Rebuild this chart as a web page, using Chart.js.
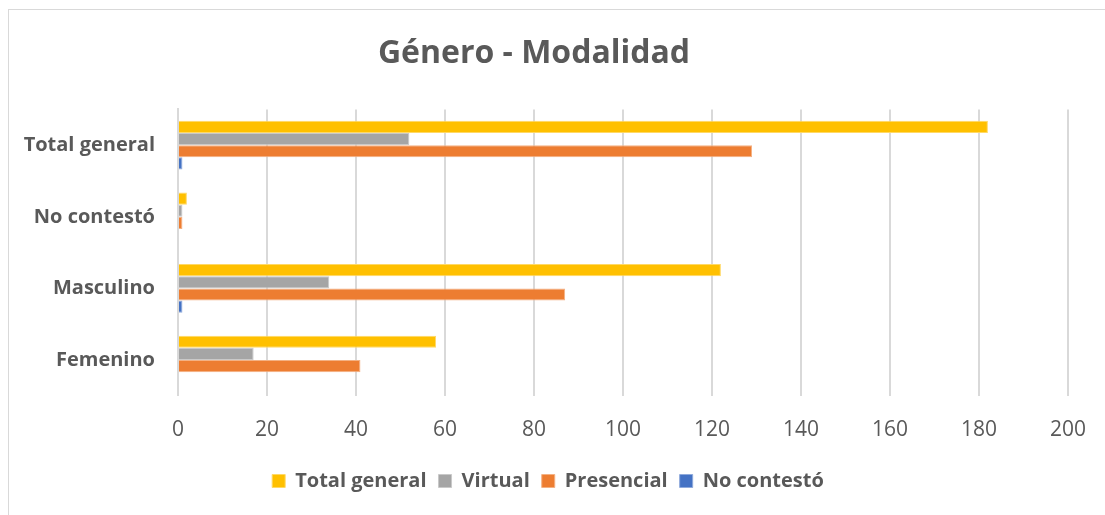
<!DOCTYPE html>
<html>
<head>
<meta charset="utf-8">
<script src="https://cdn.jsdelivr.net/npm/chart.js@4"></script>
<style>
  html, body { margin: 0; padding: 0; background: #fff; overflow: hidden; }
  #frame { position: absolute; left: 8px; top: 9px; width: 1120px; height: 540px; border: 1px solid #d9d9d9; }
  #wrap { position: absolute; left: 0; top: 0; width: 1105px; height: 515px; }
</style>
</head>
<body>
<div id="frame"></div>
<div id="wrap"><canvas id="chart"></canvas></div>
<script>
const categories = ["Total general", "No contestó", "Masculino", "Femenino"];
const seriesNames = ["Total general", "Virtual", "Presencial", "No contestó"];
const totalGeneral = [182, 2, 122, 58];
const virtual = [52, 1, 34, 17];
const presencial = [129, 1, 87, 41];
const noContesto = [1, 0, 1, 0];
const xTicks = [0, 20, 40, 60, 80, 100, 120, 140, 160, 180, 200];

const colors = ["#ffc000", "#a5a5a5", "#ed7d31", "#4472c4"];
const borders = ["#ffd966", "#c9c9c9", "#f4b183", "#8faadc"];
const values = [totalGeneral, virtual, presencial, noContesto];

const ctx = document.getElementById("chart");
const textColor = "#595959";
const font = "'Open Sans', 'Noto Sans', sans-serif";

// nudge the legend a bit to the right, like the original
const shiftLegend = {
  id: "shiftLegend",
  afterLayout(chart) {
    chart.legend.left += 14;
    chart.legend.right += 14;
  },
};

new Chart(ctx, {
  type: "bar",
  data: {
    labels: categories,
    datasets: seriesNames.map((name, i) => ({
      label: name,
      data: values[i],
      backgroundColor: colors[i],
      borderColor: borders[i],
      borderWidth: 1,
      barPercentage: 1,
      categoryPercentage: 0.68,
    })),
  },
  options: {
    indexAxis: "y",
    responsive: true,
    maintainAspectRatio: false,
    animation: false,
    layout: { padding: { left: 0, right: 37, top: 0, bottom: 14 } },
    scales: {
      x: {
        min: 0,
        max: 200,
        afterBuildTicks: (scale) => { scale.ticks = xTicks.map(v => ({ value: v })); },
        afterFit: (scale) => { scale.height -= 6; scale.paddingRight = 0; },
        grid: { color: "#d9d9d9", lineWidth: 2, drawTicks: false },
        border: { display: false },
        ticks: { color: textColor, font: { family: font, size: 21 }, padding: 22 },
      },
      y: {
        grid: { display: false },
        border: { color: "#d9d9d9", width: 2 },
        afterFit: (scale) => { scale.width = 178; },
        ticks: { color: textColor, font: { family: font, size: 20, weight: "bold" }, padding: 15 },
      },
    },
    plugins: {
      title: {
        display: true,
        text: "Género - Modalidad",
        color: textColor,
        font: { family: font, size: 32, weight: "bold" },
        padding: { top: 35, bottom: 36 },
      },
      legend: {
        position: "bottom",
        labels: {
          color: textColor,
          font: { family: font, size: 20, weight: "bold" },
          boxWidth: 13,
          boxHeight: 13,
          padding: 12,
        },
      },
      tooltip: { enabled: false },
    },
  },
  plugins: [shiftLegend],
});
</script>
</body>
</html>
